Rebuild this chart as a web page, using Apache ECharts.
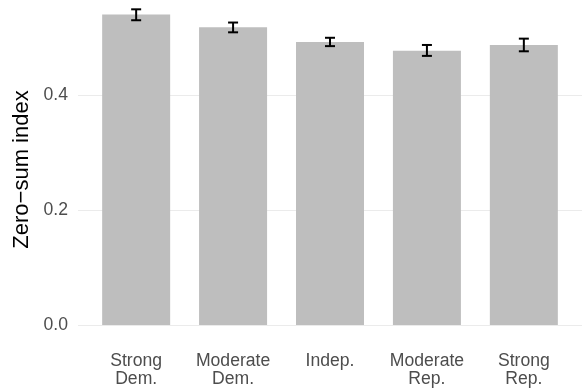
<!DOCTYPE html>
<html>
<head>
<meta charset="utf-8">
<script src="https://cdn.jsdelivr.net/npm/echarts@6/dist/echarts.min.js"></script>
<style>
  html, body { margin: 0; padding: 0; background: #ffffff; }
  #chart { width: 585px; height: 390px; }
</style>
</head>
<body>
<div id="chart"></div>
<script>
// Party identification groups and their mean zero-sum index with confidence bounds
const categories = ['Strong\nDem.', 'Moderate\nDem.', 'Indep.', 'Moderate\nRep.', 'Strong\nRep.'];
const means = [0.540, 0.518, 0.492, 0.477, 0.487];
const lower = [0.530, 0.509, 0.485, 0.468, 0.476];
const upper = [0.549, 0.526, 0.4995, 0.487, 0.498];
const yTicks = [0, 0.2, 0.4];

const positions = categories.map((_, i) => i + 1);
const barData = positions.map((x, i) => [x, means[i]]);
const errData = positions.map((x, i) => [x, lower[i], upper[i]]);

const FONT = '"Liberation Sans", Arial, Helvetica, sans-serif';

const chart = echarts.init(document.getElementById('chart'), null, { renderer: 'canvas' });

chart.setOption({
  animation: false,
  backgroundColor: '#ffffff',
  grid: { left: 78, right: 3, top: 0, bottom: 65, containLabel: false, outerBoundsMode: 'none' },
  xAxis: {
    type: 'value',
    min: 0.4,
    max: 5.6,
    axisLine: { show: false },
    axisTick: { show: false },
    splitLine: { show: false },
    axisLabel: {
      customValues: positions,
      formatter: v => categories[Math.round(v) - 1] || '',
      color: '#4d4d4d',
      fontFamily: FONT,
      fontSize: 17.6,
      lineHeight: 18,
      margin: 27
    }
  },
  yAxis: {
    type: 'value',
    min: 0,
    max: 0.5652,
    interval: 0.2,
    name: 'Zero\u2212sum index',
    nameLocation: 'middle',
    nameRotate: 90,
    nameGap: 40,
    nameTextStyle: { color: '#000000', fontFamily: FONT, fontSize: 22, padding: [0, 14, 0, 0] },
    axisLine: { show: false },
    axisTick: { show: false },
    axisLabel: {
      customValues: yTicks,
      formatter: v => v.toFixed(1),
      color: '#4d4d4d',
      fontFamily: FONT,
      fontSize: 17.6,
      margin: 10
    },
    splitLine: { show: true, showMaxLine: false, lineStyle: { color: '#ebebeb', width: 1.1 } }
  },
  series: [
    {
      type: 'bar',
      data: barData,
      barWidth: 68,
      itemStyle: { color: '#bebebe' },
      silent: true
    },
    {
      type: 'custom',
      data: errData,
      encode: { x: 0, y: [1, 2] },
      z: 5,
      clip: false,
      renderItem: (params, api) => {
        const x = api.value(0);
        const lo = api.coord([x, api.value(1)]);
        const hi = api.coord([x, api.value(2)]);
        const half = 5;
        const style = { stroke: '#000000', lineWidth: 2 };
        return {
          type: 'group',
          children: [
            { type: 'line', shape: { x1: lo[0], y1: lo[1], x2: hi[0], y2: hi[1] }, style },
            { type: 'line', shape: { x1: lo[0] - half, y1: lo[1], x2: lo[0] + half, y2: lo[1] }, style },
            { type: 'line', shape: { x1: hi[0] - half, y1: hi[1], x2: hi[0] + half, y2: hi[1] }, style }
          ]
        };
      }
    }
  ]
});
</script>
</body>
</html>
